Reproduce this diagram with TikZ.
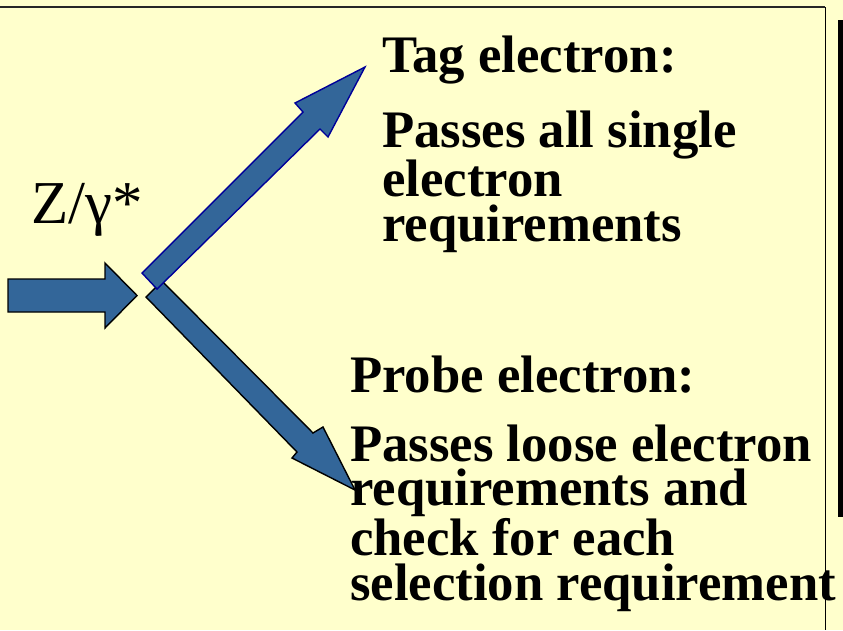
\documentclass[tikz,border=0pt]{standalone}
\usepackage{fontspec}
\setmainfont{Liberation Serif}
\definecolor{slidebg}{HTML}{FFFFCC}
\definecolor{arrowblue}{HTML}{336699}
\definecolor{edgeblue}{HTML}{000099}
\usepackage{tikz}

\begin{document}
\begin{tikzpicture}[x=0.03cm, y=-0.03cm,
		blockarrow/.style={fill=arrowblue, draw=black, line width=1.2pt, line join=miter},
		label/.style={inner sep=0pt, anchor=base west, align=left, font=\bfseries\fontsize{45}{38}\selectfont}]
	
	% slide background
	\fill[slidebg] (0,0) rectangle (843,630);
	\useasboundingbox (0,0) rectangle (843,630);
	
	% incoming boson
	\draw[blockarrow] (8,279) -- (105,279) -- (105,263) -- (137,295.5) -- (105,328) -- (105,312) -- (8,312) -- cycle;
	\node[inner sep=0pt, anchor=base west, font=\fontsize{52}{60}\selectfont] (zgamma) at (31,223) {Z/γ*};
	
	% probe leg first, the tag leg covers its tail
	\draw[blockarrow] (146,297) -- (297,452) -- (292,458) -- (355,490) -- (323,427) -- (313,433) -- (162,281) -- cycle;
	\draw[blockarrow, draw=edgeblue] (142,273) -- (303,112) -- (295,103) -- (365,67) -- (328,137) -- (320,129) -- (157,289) -- cycle;
	
	% tag electron (base of a multi-line label is its last line)
	\node[label] (tag) at (382,72) {Tag electron:};
	\node[label] (tagtext) at (382,241) {Passes all single\\electron\\requirements};
	
	% probe electron
	\node[label] (probe) at (350,392) {Probe electron:};
	\node[label] (probetext) at (350,600) {Passes loose electron\\requirements and\\check for each\\selection requirement};
	
	% frame lines
	\draw[line width=1.3pt, black!85] (0,7) -- (825,7);
	\draw[line width=0.8pt] (825,7) -- (825,630);
	\fill[black] (838,20) rectangle (843,517);
	
\end{tikzpicture}
\end{document}
